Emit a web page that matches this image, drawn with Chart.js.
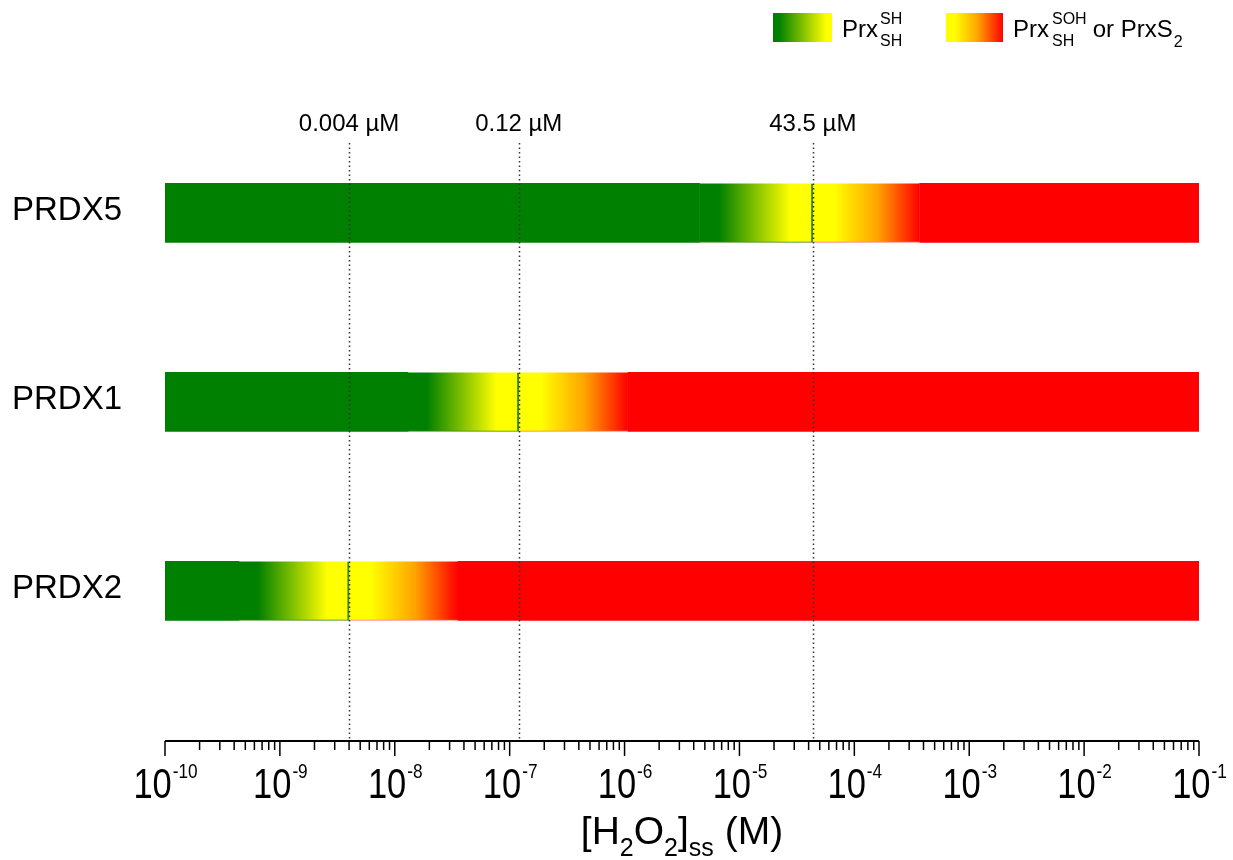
<!DOCTYPE html>
<html>
<head>
<meta charset="utf-8">
<script src="https://cdn.jsdelivr.net/npm/chart.js@4.4.0/dist/chart.umd.min.js"></script>
<style>
    body { margin: 0; background: #fff; }
    #wrap { width: 1233px; height: 860px; position: relative; }
</style>
</head>
<body>
<div id="wrap"><canvas id="grafico"></canvas></div>
<script>
// dados (concentrações em M)
const proteinas = ['PRDX5', 'PRDX1', 'PRDX2'];
const posicoes = [1, 2, 3];
const inicioTransicao = [4.5e-6, 1.3e-8, 4.4e-10];
const pontoMedio = [4.35e-5, 1.2e-7, 4e-9];
const inicioVermelho = [3.7e-4, 1.07e-6, 3.55e-8];

const marcadores = [4e-9, 1.2e-7, 4.35e-5];
const rotulosMarcadores = ['0.004 µM', '0.12 µM', '43.5 µM'];

const xMin = 1e-10;
const xMax = 1e-1;
const expoentes = [-10, -9, -8, -7, -6, -5, -4, -3, -2, -1];
const multiplicadoresMenores = [2, 3, 4, 5, 6, 7, 8, 9];

const VERDE = '#008000';
const AMARELO = '#ffff00';
const LARANJA = '#ffa500';
const VERMELHO = '#ff0000';
const FONTE = "'Liberation Sans', Arial, sans-serif";

function gradiente(c, de, ate, paradas) {
    const chart = c.chart;
    if (!chart.chartArea || c.dataIndex === undefined) return 'rgba(0,0,0,0)';
    const x = chart.scales.x;
    const x0 = x.getPixelForValue(de[c.dataIndex]);
    const x1 = x.getPixelForValue(ate[c.dataIndex]);
    const g = chart.ctx.createLinearGradient(x0, 0, x1, 0);
    paradas.forEach(p => g.addColorStop(p[0], p[1]));
    return g;
}

function desenharCondensado(ctx, texto, x, y, fator) {
    ctx.save();
    ctx.translate(x, y);
    ctx.scale(fator, 1);
    ctx.fillText(texto, 0, 0);
    ctx.restore();
}

// desenha uma sequência de pedaços [texto, tamanho, deslocamento vertical]
function desenharSequencia(ctx, pedacos, x, y) {
    let cursor = x;
    pedacos.forEach(p => {
        ctx.font = `${p[1]}px ${FONTE}`;
        ctx.fillText(p[0], cursor, y + p[2]);
        cursor += ctx.measureText(p[0]).width;
    });
    return cursor;
}

function larguraSequencia(ctx, pedacos) {
    let w = 0;
    pedacos.forEach(p => {
        ctx.font = `${p[1]}px ${FONTE}`;
        w += ctx.measureText(p[0]).width;
    });
    return w;
}

const linhasPontilhadas = {
    id: 'linhasPontilhadas',
    afterDatasetsDraw(chart) {
        const { ctx, chartArea, scales: { x } } = chart;
        ctx.save();
        ctx.strokeStyle = '#333';
        ctx.lineWidth = 1.5;
        ctx.setLineDash([1.5, 3]);
        marcadores.forEach((v, i) => {
            const px = Math.round(x.getPixelForValue(v)) + 0.5;
            ctx.beginPath();
            ctx.moveTo(px, chartArea.top);
            ctx.lineTo(px, chartArea.bottom);
            ctx.stroke();
        });
        ctx.setLineDash([]);
        ctx.fillStyle = '#000';
        ctx.font = `24px ${FONTE}`;
        ctx.textAlign = 'center';
        ctx.textBaseline = 'alphabetic';
        marcadores.forEach((v, i) => {
            ctx.fillText(rotulosMarcadores[i], x.getPixelForValue(v), 131);
        });
        ctx.restore();
    }
};

const decoracao = {
    id: 'decoracao',
    afterDraw(chart) {
        const { ctx, chartArea, scales: { x, y } } = chart;
        ctx.save();
        ctx.fillStyle = '#000';
        ctx.strokeStyle = '#000';

        // eixo x
        const yEixo = chartArea.bottom;
        ctx.lineWidth = 2;
        ctx.beginPath();
        ctx.moveTo(chartArea.left, yEixo);
        ctx.lineTo(chartArea.right, yEixo);
        ctx.stroke();

        ctx.lineWidth = 1.5;
        expoentes.forEach(e => {
            const px = x.getPixelForValue(Math.pow(10, e));
            ctx.beginPath();
            ctx.moveTo(px, yEixo);
            ctx.lineTo(px, yEixo + 15);
            ctx.stroke();
            multiplicadoresMenores.forEach(m => {
                const v = m * Math.pow(10, e);
                if (v > xMax) return;
                const pm = x.getPixelForValue(v);
                ctx.beginPath();
                ctx.moveTo(pm, yEixo);
                ctx.lineTo(pm, yEixo + 9);
                ctx.stroke();
            });
        });

        // rótulos das marcas: 10 com expoente
        const fator = 0.82;
        ctx.textAlign = 'left';
        ctx.textBaseline = 'alphabetic';
        expoentes.forEach(e => {
            const px = x.getPixelForValue(Math.pow(10, e));
            const base = '10';
            const exp = String(e);
            ctx.font = `42px ${FONTE}`;
            const wBase = ctx.measureText(base).width * fator;
            ctx.font = `21px ${FONTE}`;
            const wExp = ctx.measureText(exp).width * fator;
            const inicio = px - (wBase + wExp) / 2;
            ctx.font = `42px ${FONTE}`;
            desenharCondensado(ctx, base, inicio, 798, fator);
            ctx.font = `21px ${FONTE}`;
            desenharCondensado(ctx, exp, inicio + wBase + 1, 778, fator);
        });

        // título do eixo
        const titulo = [['[H', 39, 0], ['2', 25, 12], ['O', 39, 0], ['2', 25, 12], [']', 39, 0], ['ss', 25, 12], [' (M)', 39, 0]];
        const wTitulo = larguraSequencia(ctx, titulo);
        desenharSequencia(ctx, titulo, (chartArea.left + chartArea.right) / 2 - wTitulo / 2, 844);

        // nomes das proteínas
        ctx.font = `33px ${FONTE}`;
        proteinas.forEach((nome, i) => {
            ctx.fillText(nome, 12, y.getPixelForValue(posicoes[i]) + 7);
        });

        // legenda
        const g1 = ctx.createLinearGradient(773, 0, 832, 0);
        g1.addColorStop(0, VERDE);
        g1.addColorStop(0.1, VERDE);
        g1.addColorStop(0.9, AMARELO);
        g1.addColorStop(1, AMARELO);
        ctx.fillStyle = g1;
        ctx.fillRect(773, 13, 59, 29);
        const g2 = ctx.createLinearGradient(946, 0, 1003, 0);
        g2.addColorStop(0, AMARELO);
        g2.addColorStop(0.15, AMARELO);
        g2.addColorStop(0.55, LARANJA);
        g2.addColorStop(1, VERMELHO);
        ctx.fillStyle = g2;
        ctx.fillRect(946, 13, 57, 29);

        ctx.fillStyle = '#000';
        ctx.font = `24px ${FONTE}`;
        ctx.fillText('Prx', 842, 37);
        ctx.font = `16px ${FONTE}`;
        ctx.fillText('SH', 880, 24);
        ctx.fillText('SH', 880, 46);

        ctx.font = `24px ${FONTE}`;
        ctx.fillText('Prx', 1013, 37);
        ctx.font = `16px ${FONTE}`;
        ctx.fillText('SOH', 1052, 24);
        ctx.fillText('SH', 1052, 46);
        const fim = desenharSequencia(ctx, [[' or PrxS', 24, 0]], 1086, 37);
        ctx.font = `16px ${FONTE}`;
        ctx.fillText('2', fim + 1, 47);

        ctx.restore();
    }
};

new Chart(document.getElementById('grafico'), {
    type: 'bar',
    data: {
        datasets: [
            {
                label: 'reduzida',
                data: posicoes.map((p, i) => ({ y: p, x: [xMin, inicioTransicao[i]] })),
                backgroundColor: VERDE
            },
            {
                label: 'transição verde-amarelo',
                data: posicoes.map((p, i) => ({ y: p, x: [inicioTransicao[i], pontoMedio[i]] })),
                backgroundColor: c => gradiente(c, inicioTransicao, pontoMedio,
                    [[0, VERDE], [0.17, VERDE], [0.8, AMARELO], [1, AMARELO]]),
                borderColor: '#3c8c14',
                borderWidth: { top: 0, left: 0, right: 2, bottom: 1 },
                borderSkipped: false
            },
            {
                label: 'transição amarelo-vermelho',
                data: posicoes.map((p, i) => ({ y: p, x: [pontoMedio[i], inicioVermelho[i]] })),
                backgroundColor: c => gradiente(c, pontoMedio, inicioVermelho,
                    [[0, AMARELO], [0.2, AMARELO], [0.6, LARANJA], [1, VERMELHO]]),
                borderColor: 'rgba(255, 60, 60, 0.7)',
                borderWidth: { top: 0, left: 0, right: 0, bottom: 1 },
                borderSkipped: false
            },
            {
                label: 'oxidada',
                data: posicoes.map((p, i) => ({ y: p, x: [inicioVermelho[i], xMax] })),
                backgroundColor: VERMELHO
            }
        ]
    },
    options: {
        indexAxis: 'y',
        responsive: true,
        maintainAspectRatio: false,
        animation: false,
        layout: { padding: { left: 165, right: 34, top: 143, bottom: 119 } },
        datasets: { bar: { grouped: false, barThickness: 59 } },
        scales: {
            x: { type: 'logarithmic', min: xMin, max: xMax, display: false },
            y: { type: 'linear', min: 0.63, max: 3.794, offset: false, reverse: true, display: false }
        },
        plugins: {
            legend: { display: false },
            tooltip: { enabled: false }
        }
    },
    plugins: [linhasPontilhadas, decoracao]
});
</script>
</body>
</html>
